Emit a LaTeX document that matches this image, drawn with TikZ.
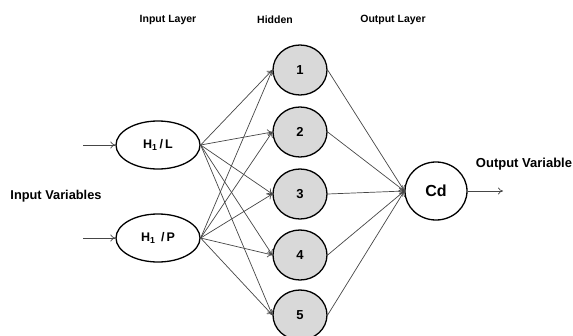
\documentclass[tikz,border=0pt]{standalone}
\usepackage{fontspec}
\setmainfont{Liberation Sans}
\usetikzlibrary{shapes.geometric,arrows.meta}
\begin{document}
\begin{tikzpicture}[x=1pt,y=-1pt,
	font=\bfseries,
	inp/.style={ellipse, draw, line width=1.3pt, fill=white, minimum width=84pt, minimum height=48pt, inner sep=0pt, font=\fontsize{12.5}{14}\selectfont\bfseries},
	hid/.style={ellipse, draw, line width=1.3pt, fill=gray!30, minimum width=54pt, minimum height=50pt, inner sep=0pt, font=\fontsize{13}{15}\selectfont\bfseries},
	link/.style={-{To[length=5pt,width=7pt]}, draw=gray!55!black, line width=0.7pt},
	title/.style={font=\fontsize{10.5}{12}\selectfont\bfseries}]
	\useasboundingbox (0,0) rectangle (573,335);

	\node[title] (tin) at (168,20) {Input Layer};
	\node[title] (thid) at (275,20) {Hidden};
	\node[title] (tout) at (393,20) {Output Layer};

	\node[inp] (in1) at (158,145) {H$_\mathbf{1}$\,/\,L};
	\node[inp] (in2) at (158,238) {H$_\mathbf{1}$ \,/\,P};
	\foreach \i/\y in {1/70,2/132,3/194,4/255,5/315}
		\node[hid] (h\i) at (300,\y) {\i};
	\node[inp, minimum width=62pt, minimum height=58pt, font=\fontsize{16}{18}\selectfont\bfseries] (out) at (436,191) {Cd};

	% input / output arrows
	\coordinate (x1) at (83,145);
	\coordinate (x2) at (83,238);
	\coordinate (y) at (503,191);
	\draw[link] (x1) -- (in1.west);
	\draw[link] (x2) -- (in2.west);
	\draw[link] (out.east) -- (y);

	\foreach \i in {1,...,5} {
		\draw[link] (in1.east) -- (h\i.west);
		\draw[link] (in2.east) -- (h\i.west);
		\draw[link] (h\i.east) -- (out.west);
	}

	\node[font=\fontsize{12.8}{14}\selectfont\bfseries] (xin) at (56,196) {Input Variables};
	\node[font=\fontsize{13}{15}\selectfont\bfseries] (yout) at (524,164) {Output Variable};
\end{tikzpicture}
\end{document}
